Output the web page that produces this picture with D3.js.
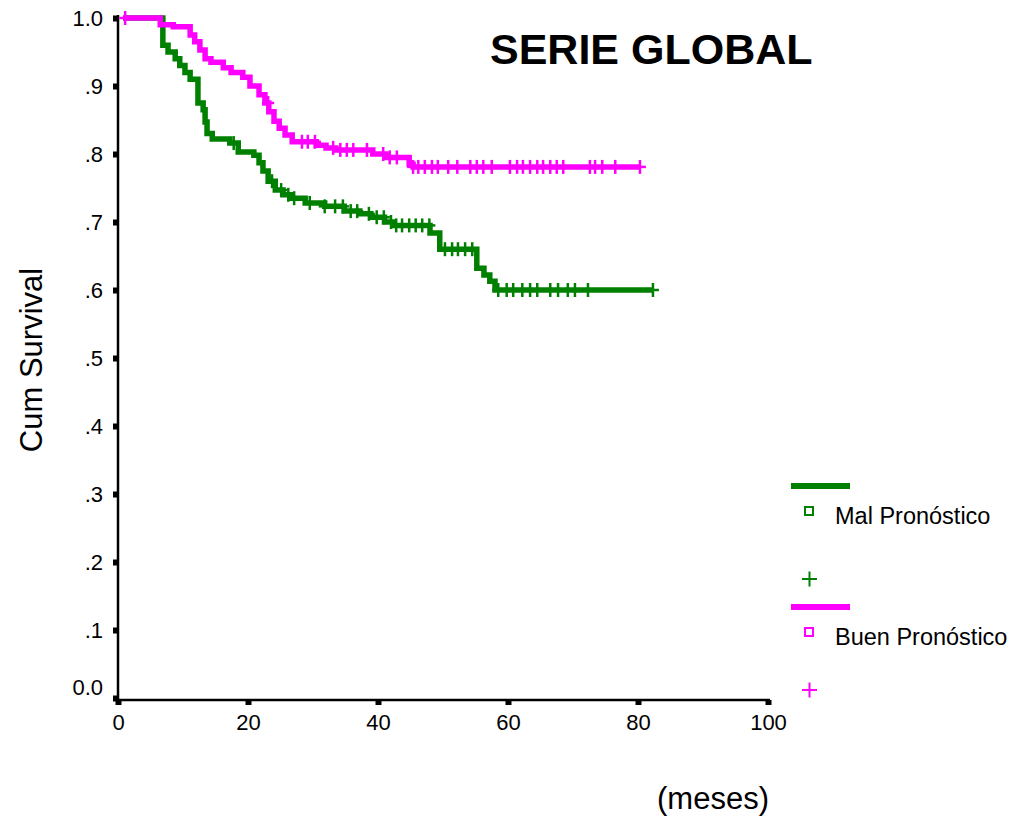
<!DOCTYPE html>
<html>
<head>
<meta charset="utf-8">
<script src="https://cdn.jsdelivr.net/npm/d3@7"></script>
<style>
  body { margin: 0; background: #fff; }
  text { font-family: Arial, "Liberation Sans", sans-serif; }
</style>
</head>
<body>
<svg id="chart" width="1014" height="821"></svg>
<script>
// survival steps (time in months, cum survival after the drop)
var malStepT = [6.9, 7.7, 8.8, 9.5, 10.3, 11.1, 12.3, 13.1, 13.4, 13.7, 14.5, 17.2, 18.5, 20.9, 21.7, 22.3,
  23.1, 24.2, 25.4, 26.5, 28.8, 31.8, 34.8, 37.2, 38.9, 41.0, 42.5, 48.0, 49.5, 55.2, 56.3, 57.2, 58.0];
var malStepS = [.96, .95, .94, .93, .92, .91, .875, .865, .847, .83, .822, .816, .803, .798, .787, .775,
  .76, .747, .74, .735, .728, .723, .716, .712, .707, .70, .695, .684, .66, .632, .622, .613, .60];
var malCensor = [17.8, 23.7, 25.1, 26.2, 27.1, 29.5, 31.8, 33.4, 34.6, 35.8, 36.8, 38.6, 39.8, 40.9, 42.0,
  42.8, 43.7, 44.8, 45.8, 46.8, 47.9, 50.3, 51.4, 52.3, 53.4, 54.5, 58.5, 59.8, 60.8, 62.2, 63.4, 64.5,
  66.5, 67.7, 69.2, 70.3, 72.3, 82.3];

var buenStepT = [6.5, 8.5, 11.1, 11.8, 12.6, 13.4, 14.3, 16.2, 17.4, 19.2, 20.3, 21.7, 22.6, 23.2, 24.0,
  24.8, 25.7, 26.8, 30.5, 32.0, 33.5, 39.2, 41.2, 44.8, 45.4];
var buenStepS = [.99, .987, .975, .965, .953, .94, .935, .927, .92, .913, .90, .887, .875, .862, .848,
  .838, .828, .818, .813, .809, .806, .80, .795, .785, .781];
var buenCensor = [1.1, 23.1, 28.3, 29.2, 30.3, 33.1, 34.2, 35.2, 36.2, 38.3, 40.8, 41.8, 42.9, 45.4, 46.2,
  47.2, 48.3, 49.2, 50.8, 52.2, 54.2, 55.2, 56.2, 57.5, 60.3, 61.4, 62.3, 63.4, 64.5, 65.4, 66.5, 67.5,
  68.5, 72.6, 73.4, 74.5, 76.5, 80.3];

var startTime = 0.8;
var xTicks = [0, 20, 40, 60, 80, 100];
var yTicks = [0, .1, .2, .3, .4, .5, .6, .7, .8, .9, 1];
var yTickLabels = ['0.0', '.1', '.2', '.3', '.4', '.5', '.6', '.7', '.8', '.9', '1.0'];
var groupNames = ['Mal Pronóstico', 'Buen Pronóstico'];
var groupColors = ['#008000', '#ff00ff'];

var svg = d3.select('#chart');

var x = d3.scaleLinear().domain([0, 100]).range([118, 768]);
var y = d3.scaleLinear().domain([0, 1]).range([698, 18]);

function buildSteps(stepT, stepS, censor) {
  var pts = [[startTime, 1]];
  stepT.forEach(function(t, i) { pts.push([t, stepS[i]]); });
  var end = d3.max(censor);
  pts.push([end, pts[pts.length - 1][1]]);
  return pts;
}

function survAt(stepT, stepS, t) {
  var s = 1;
  for (var i = 0; i < stepT.length; i++) {
    if (stepT[i] <= t) s = stepS[i];
  }
  return s;
}

// axes
var yAxis = d3.axisLeft(y).tickValues(yTicks).tickSize(5).tickPadding(10)
  .tickFormat(function(d, i) { return yTickLabels[i]; });
var gy = svg.append('g').attr('transform', 'translate(118,0)').call(yAxis);
gy.select('.domain').attr('d', 'M0,15V701').attr('stroke', '#000').attr('stroke-width', 2.5);
gy.selectAll('.tick line').attr('stroke', '#000').attr('stroke-width', 6);
gy.selectAll('.tick text').attr('font-size', 22).attr('fill', '#000')
  .attr('dy', function(d) { return d === 0 ? '-0.15em' : '0.35em'; });

var xAxis = d3.axisBottom(x).tickValues(xTicks).tickSize(5).tickPadding(9);
var gx = svg.append('g').attr('transform', 'translate(0,700)').call(xAxis);
gx.select('.domain').attr('d', 'M117,0H770').attr('stroke', '#000').attr('stroke-width', 2.5);
gx.selectAll('.tick line').attr('stroke', '#000').attr('stroke-width', 6);
gx.selectAll('.tick text').attr('font-size', 22).attr('fill', '#000');

// curves
var line = d3.line()
  .x(function(d) { return x(d[0]); })
  .y(function(d) { return y(d[1]); })
  .curve(d3.curveStepAfter);

var groups = [
  { steps: buildSteps(malStepT, malStepS, malCensor), stepT: malStepT, stepS: malStepS, censor: malCensor, color: groupColors[0] },
  { steps: buildSteps(buenStepT, buenStepS, buenCensor), stepT: buenStepT, stepS: buenStepS, censor: buenCensor, color: groupColors[1] }
];

groups.forEach(function(g) {
  var layer = svg.append('g');
  layer.append('path')
    .datum(g.steps)
    .attr('d', line)
    .attr('fill', 'none')
    .attr('stroke', g.color)
    .attr('stroke-width', 5.5);

  var marks = layer.selectAll('.cens')
    .data(g.censor)
    .enter().append('g')
    .attr('transform', function(t) {
      return 'translate(' + x(t) + ',' + y(survAt(g.stepT, g.stepS, t)) + ')';
    });
  marks.append('line').attr('x1', 0).attr('x2', 0).attr('y1', -7).attr('y2', 7)
    .attr('stroke', g.color).attr('stroke-width', 2.5);
  marks.append('line').attr('x1', -6).attr('x2', 6).attr('y1', 0).attr('y2', 0)
    .attr('stroke', g.color).attr('stroke-width', 2.5);
});

// titles
svg.append('text').attr('x', 490).attr('y', 64)
  .attr('font-size', 43).attr('font-weight', 'bold').text('SERIE GLOBAL');

svg.append('text').attr('transform', 'translate(42,360) rotate(-90)')
  .attr('text-anchor', 'middle').attr('font-size', 31).text('Cum Survival');

svg.append('text').attr('x', 657).attr('y', 809)
  .attr('font-size', 31).text('(meses)');

// legend
var legend = svg.append('g');
var legendPlusOffset = [93, 83];
groupNames.forEach(function(name, i) {
  var top = 486 + i * 121;
  var c = groupColors[i];
  var py = top + legendPlusOffset[i];
  legend.append('line').attr('x1', 791).attr('x2', 850).attr('y1', top).attr('y2', top)
    .attr('stroke', c).attr('stroke-width', 6);
  legend.append('rect').attr('x', 805).attr('y', top + 21).attr('width', 8).attr('height', 8)
    .attr('fill', 'none').attr('stroke', c).attr('stroke-width', 2);
  legend.append('text').attr('x', 835).attr('y', top + 38).attr('font-size', 23.5).text(name);
  legend.append('line').attr('x1', 802).attr('x2', 817).attr('y1', py).attr('y2', py)
    .attr('stroke', c).attr('stroke-width', 2);
  legend.append('line').attr('x1', 809.5).attr('x2', 809.5).attr('y1', py - 7.5).attr('y2', py + 7.5)
    .attr('stroke', c).attr('stroke-width', 2);
});
</script>
</body>
</html>
